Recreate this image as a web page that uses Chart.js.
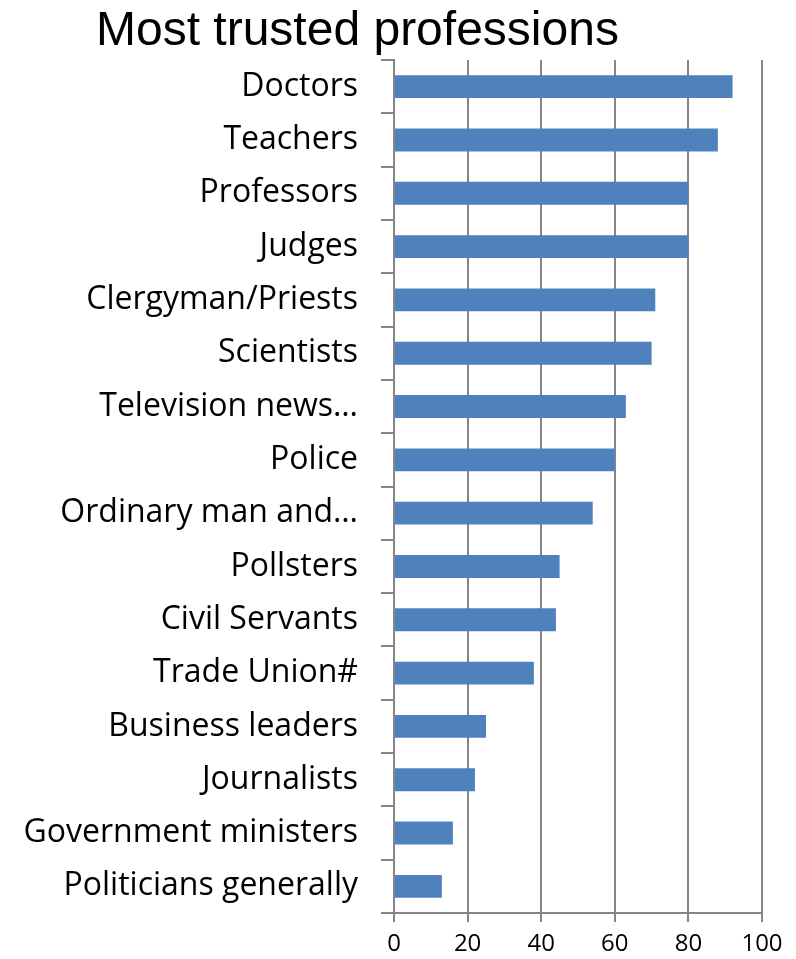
<!DOCTYPE html>
<html>
<head>
<meta charset="utf-8">
<script src="https://cdn.jsdelivr.net/npm/chart.js@4"></script>
<style>
  html, body { margin: 0; padding: 0; background: #fff; }
  #wrap { width: 796px; height: 959px; }
</style>
</head>
<body>
<div id="wrap"><canvas id="myChart"></canvas></div>
<script>
const titleText = 'Most trusted professions';
const professions = [
    'Doctors', 'Teachers', 'Professors', 'Judges', 'Clergyman/Priests', 'Scientists',
    'Television news…', 'Police', 'Ordinary man and…', 'Pollsters', 'Civil Servants',
    'Trade Union#', 'Business leaders', 'Journalists', 'Government ministers', 'Politicians generally'
];
const trustValues = [92, 88, 80, 80, 71, 70, 63, 60, 54, 45, 44, 38, 25, 22, 16, 13];
const xTicks = [0, 20, 40, 60, 80, 100];

const gridGrey = '#868686';

// title sits left of centre in the original, so draw it by hand
const titlePlugin = {
    id: 'leftTitle',
    afterDraw(chart) {
        const ctx = chart.ctx;
        ctx.save();
        ctx.font = '48px "Liberation Sans", Arial, sans-serif';
        ctx.fillStyle = '#000';
        ctx.textAlign = 'left';
        ctx.textBaseline = 'alphabetic';
        ctx.fillText(titleText, 96, 45);
        ctx.restore();
    }
};

const ctx = document.getElementById('myChart').getContext('2d');
new Chart(ctx, {
    type: 'bar',
    data: {
        labels: professions,
        datasets: [
            {
                data: trustValues,
                backgroundColor: '#4F81BD',
                borderWidth: 0,
                barPercentage: 0.43,
                categoryPercentage: 1.0,
            },
        ],
    },
    options: {
        indexAxis: 'y',
        responsive: true,
        maintainAspectRatio: false,
        animation: false,
        layout: {
            padding: { top: 60, right: 34, left: 0, bottom: 0 },
        },
        plugins: {
            legend: { display: false },
            title: { display: false },
            tooltip: { enabled: false },
        },
        scales: {
            x: {
                min: 0,
                max: 100,
                afterBuildTicks(scale) {
                    scale.ticks = xTicks.map(v => ({ value: v }));
                },
                afterFit(scale) {
                    scale.height = 46;
                },
                ticks: {
                    color: '#000',
                    font: { family: 'Open Sans', size: 24 },
                    padding: 8,
                },
                grid: {
                    color: gridGrey,
                    lineWidth: 2,
                    tickLength: 9,
                },
                border: {
                    display: true,
                    color: gridGrey,
                    width: 2,
                },
            },
            y: {
                afterFit(scale) {
                    scale.width = 394;
                },
                ticks: {
                    color: '#000',
                    font: { family: 'Open Sans', size: 32 },
                    padding: 23,
                    autoSkip: false,
                },
                grid: {
                    drawOnChartArea: false,
                    color: gridGrey,
                    lineWidth: 2,
                    tickLength: 13,
                },
                border: {
                    display: true,
                    color: gridGrey,
                    width: 2,
                },
            },
        },
    },
    plugins: [titlePlugin],
});
</script>
</body>
</html>
